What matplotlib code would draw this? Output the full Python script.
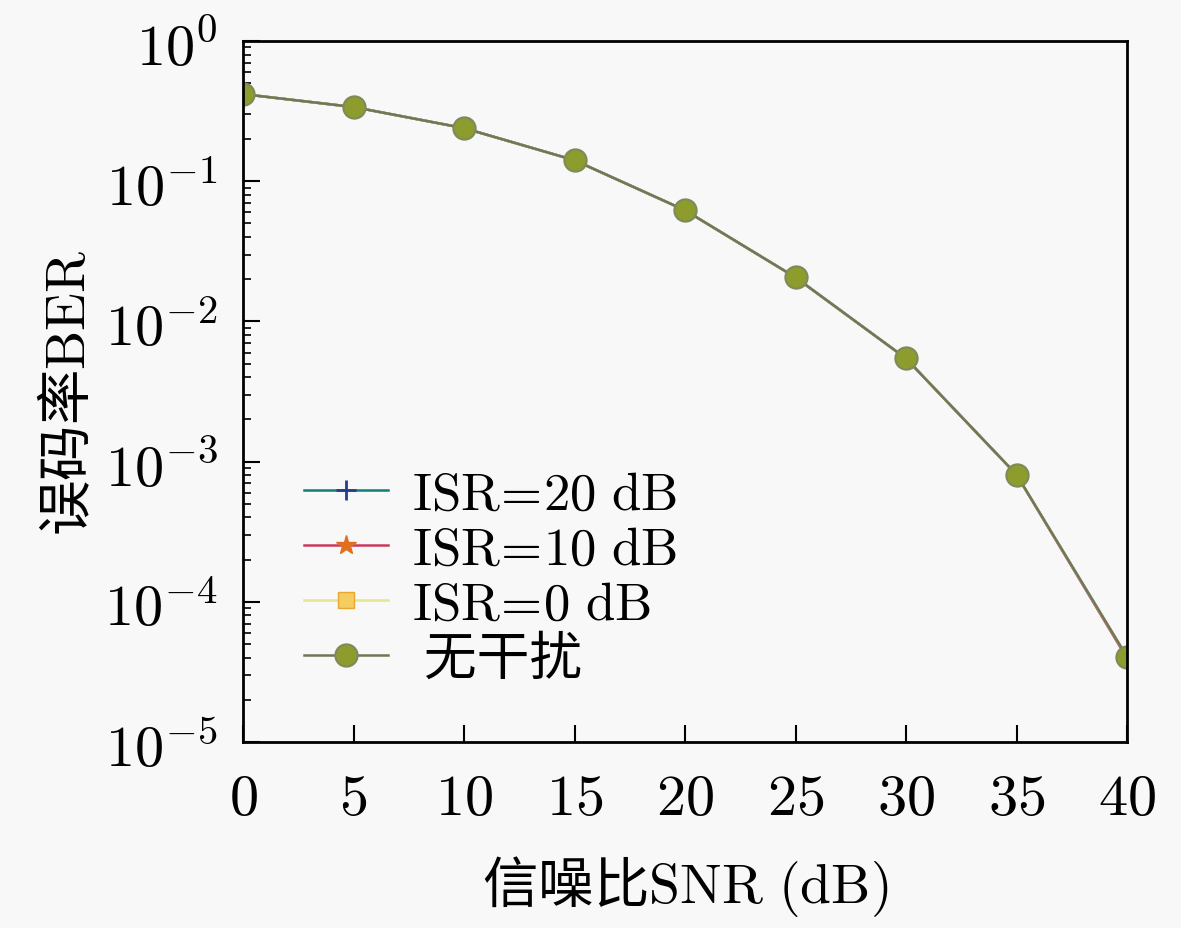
import matplotlib
matplotlib.use("Agg")
import matplotlib.pyplot as plt

snr = [0, 5, 10, 15, 20, 25, 30, 35, 40]
ber_isr20 = [0.418, 0.338, 0.239, 0.141, 0.062, 0.0206, 0.00544, 8.07e-4, 4.05e-5]
ber_isr10 = [0.418, 0.338, 0.239, 0.141, 0.062, 0.0206, 0.00544, 8.07e-4, 3.95e-5]
ber_isr0 = [0.418, 0.338, 0.239, 0.141, 0.062, 0.0206, 0.00544, 8.07e-4, 4.05e-5]
ber_none = [0.418, 0.338, 0.239, 0.141, 0.062, 0.0206, 0.00544, 8.07e-4, 4.05e-5]
labels = [r"$\mathrm{ISR}\!=\!\mathrm{20\ dB}$", r"$\mathrm{ISR}\!=\!\mathrm{10\ dB}$",
          r"$\mathrm{ISR}\!=\!\mathrm{0\ dB}$", " 无干扰"]
xticks = [0, 5, 10, 15, 20, 25, 30, 35, 40]

plt.rcParams['font.family'] = ['Noto Sans CJK SC', 'DejaVu Serif']
plt.rcParams['mathtext.fontset'] = 'cm'
plt.rcParams['axes.unicode_minus'] = False

fig = plt.figure(figsize=(11.81, 9.29), dpi=100, facecolor='#f8f8f8')
ax = fig.add_axes([0.2058, 0.2002, 0.7485, 0.7546])
ax.set_facecolor('#f8f8f8')

ax.plot(snr, ber_isr20, color='#0f7f78', lw=1.8, marker='+', ms=15, mew=2,
        mec='#22408a', label=labels[0])
ax.plot(snr, ber_isr10, color='#c83a5c', lw=1.8, marker='*', ms=15,
        mfc='#e07020', mec='#e07020', label=labels[1])
ax.plot(snr, ber_isr0, color='#e4e690', lw=1.8, marker='s', ms=12,
        mfc='#f4cc60', mec='#e8a830', label=labels[2])
ax.plot(snr, ber_none, color='#707658', lw=1.8, marker='o', ms=16, mew=1.5,
        mfc='#8d9c2c', mec='#7d8a5a', label=labels[3])

ax.set_yscale('log')
ax.set_xlim(0, 40)
ax.set_ylim(1e-5, 1)
ax.set_xticks(xticks)
ax.set_xticklabels([r"$%d$" % v for v in xticks])
ax.set_yticks([1e-5, 1e-4, 1e-3, 1e-2, 1e-1, 1])
ax.set_yticklabels([r"$10^{%d}$" % v for v in [-5, -4, -3, -2, -1, 0]])

ax.tick_params(axis='both', which='major', direction='in', length=12, width=1.5,
               labelsize=42, pad=18)
ax.tick_params(axis='y', which='minor', direction='in', length=6, width=1.2)
ax.tick_params(axis='x', which='minor', bottom=False)
for s in ax.spines.values():
    s.set_linewidth(2)

ax.set_xlabel("信噪比$\\mathrm{SNR\\ (dB)}$", fontsize=40, labelpad=18)
ax.set_ylabel("误码率$\\mathrm{BER}$", fontsize=40, labelpad=4)

leg = ax.legend(loc='lower left', bbox_to_anchor=(0.045, 0.05), frameon=False,
                fontsize=38, handlelength=1.6, handletextpad=0.45,
                labelspacing=0.0, borderaxespad=0)

fig.savefig("out.png", dpi=100, facecolor=fig.get_facecolor())
